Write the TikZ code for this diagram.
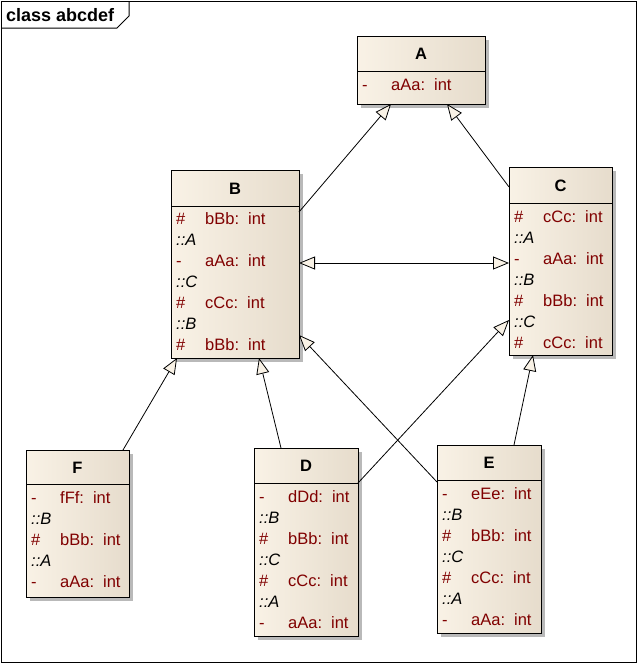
\documentclass[tikz,border=0pt]{standalone}
\usepackage{fontspec}
\setmainfont{Liberation Sans}
\usetikzlibrary{arrows.meta,shadows}
\definecolor{beigeL}{RGB}{249,242,230}
\definecolor{beigeR}{RGB}{230,220,204}
\definecolor{attrred}{RGB}{128,0,0}
\definecolor{shadowgray}{RGB}{185,185,185}
\newcommand\attrtxt[2]{\makebox[29pt][l]{#1}#2:\hspace{9pt}int}
\begin{document}
\begin{tikzpicture}[x=1pt,y=-1pt,
 classbox/.style={draw, line width=1pt, inner sep=0pt, outer sep=0pt, left color=beigeL, right color=beigeR,
   drop shadow={shadow xshift=4pt,shadow yshift=-4pt,fill=shadowgray,opacity=1}},
 titletxt/.style={font=\fontsize{16.5}{19}\selectfont\bfseries, inner sep=0pt},
 attr/.style={anchor=west, inner sep=0pt, text=attrred, font=\fontsize{16.5}{19}\selectfont, text height=12pt, text depth=3pt},
 scp/.style={anchor=west, inner sep=0pt, text=black, font=\fontsize{16.5}{19}\selectfont\itshape, text height=12pt, text depth=3pt},
 sepline/.style={line width=1pt},
 gen/.style={line width=0.8pt, line join=miter},
 >={Triangle[length=16pt,width=13pt,fill=beigeL]}
]
\useasboundingbox (0,0) rectangle (638,664);
% frame
\draw[line width=1pt] (1,1) rectangle (636,662);
\draw[line width=1pt] (1,28) -- (117,28) -- (129,16) -- (129,1);
\node[anchor=west, inner sep=0pt, font=\fontsize{18}{21}\selectfont\bfseries] (frameLabel) at (6,15) {class abcdef};

% boxes
\node[classbox, minimum width=128pt, minimum height=68pt] (A) at (421,70) {};
\node[classbox, minimum width=128pt, minimum height=188pt] (B) at (235,264) {};
\node[classbox, minimum width=103pt, minimum height=188pt] (C) at (560.5,261) {};
\node[classbox, minimum width=103pt, minimum height=147pt] (F) at (77.5,523.5) {};
\node[classbox, minimum width=104pt, minimum height=188pt] (D) at (306,542) {};
\node[classbox, minimum width=104pt, minimum height=188pt] (E) at (489,539) {};

% separators
\draw[sepline] (A.west |- 0,71) -- (A.east |- 0,71);
\draw[sepline] (B.west |- 0,206) -- (B.east |- 0,206);
\draw[sepline] (C.west |- 0,203) -- (C.east |- 0,203);
\draw[sepline] (F.west |- 0,484) -- (F.east |- 0,484);
\draw[sepline] (D.west |- 0,483) -- (D.east |- 0,483);
\draw[sepline] (E.west |- 0,480) -- (E.east |- 0,480);

% titles
\node[titletxt] (At) at (421,54) {A};
\node[titletxt] (Bt) at (235,188.5) {B};
\node[titletxt] (Ct) at (560.5,185.5) {C};
\node[titletxt] (Ft) at (77.5,467.5) {F};
\node[titletxt] (Dt) at (306,466) {D};
\node[titletxt] (Et) at (489,463) {E};

% A
\node[attr] (A1) at (362,86) {\attrtxt{-}{aAa}};
% B
\node[attr] (B1) at (176,220) {\attrtxt{\#}{bBb}};
\node[scp]  (B2) at (176,241) {::A};
\node[attr] (B3) at (176,262) {\attrtxt{-}{aAa}};
\node[scp]  (B4) at (176,283) {::C};
\node[attr] (B5) at (176,304) {\attrtxt{\#}{cCc}};
\node[scp]  (B6) at (176,325) {::B};
\node[attr] (B7) at (176,346) {\attrtxt{\#}{bBb}};
% C
\node[attr] (C1) at (514,217.5) {\attrtxt{\#}{cCc}};
\node[scp]  (C2) at (514,238.5) {::A};
\node[attr] (C3) at (514,259.5) {\attrtxt{-}{aAa}};
\node[scp]  (C4) at (514,280.5) {::B};
\node[attr] (C5) at (514,301.5) {\attrtxt{\#}{bBb}};
\node[scp]  (C6) at (514,322.5) {::C};
\node[attr] (C7) at (514,343.5) {\attrtxt{\#}{cCc}};
% F
\node[attr] (F1) at (31,498.5) {\attrtxt{-}{fFf}};
\node[scp]  (F2) at (31,519.5) {::B};
\node[attr] (F3) at (31,540.5) {\attrtxt{\#}{bBb}};
\node[scp]  (F4) at (31,561.5) {::A};
\node[attr] (F5) at (31,582.5) {\attrtxt{-}{aAa}};
% D
\node[attr] (D1) at (259,498) {\attrtxt{-}{dDd}};
\node[scp]  (D2) at (259,519) {::B};
\node[attr] (D3) at (259,540) {\attrtxt{\#}{bBb}};
\node[scp]  (D4) at (259,561) {::C};
\node[attr] (D5) at (259,582) {\attrtxt{\#}{cCc}};
\node[scp]  (D6) at (259,603) {::A};
\node[attr] (D7) at (259,624) {\attrtxt{-}{aAa}};
% E
\node[attr] (E1) at (442,494.5) {\attrtxt{-}{eEe}};
\node[scp]  (E2) at (442,515.5) {::B};
\node[attr] (E3) at (442,536.5) {\attrtxt{\#}{bBb}};
\node[scp]  (E4) at (442,557.5) {::C};
\node[attr] (E5) at (442,578.5) {\attrtxt{\#}{cCc}};
\node[scp]  (E6) at (442,599.5) {::A};
\node[attr] (E7) at (442,620.5) {\attrtxt{-}{aAa}};

% generalizations
\draw[gen,->] (B.east |- 0,212) -- (A.south -| 391,0);
\draw[gen,->] (C.west |- 0,187) -- (A.south -| 447,0);
\draw[gen,<->] (B.east |- 0,263) -- (C.west |- 0,263);
\draw[gen,->] (F.north -| 123,0) -- (B.south -| 177,0);
\draw[gen,->] (D.north -| 281,0) -- (B.south -| 259,0);
\draw[gen,->] (E.west |- 0,482) -- (B.east |- 0,335);
\draw[gen,->] (D.east |- 0,483) -- (C.west |- 0,320);
\draw[gen,->] (E.north -| 514,0) -- (C.south -| 533,0);
\end{tikzpicture}
\end{document}
